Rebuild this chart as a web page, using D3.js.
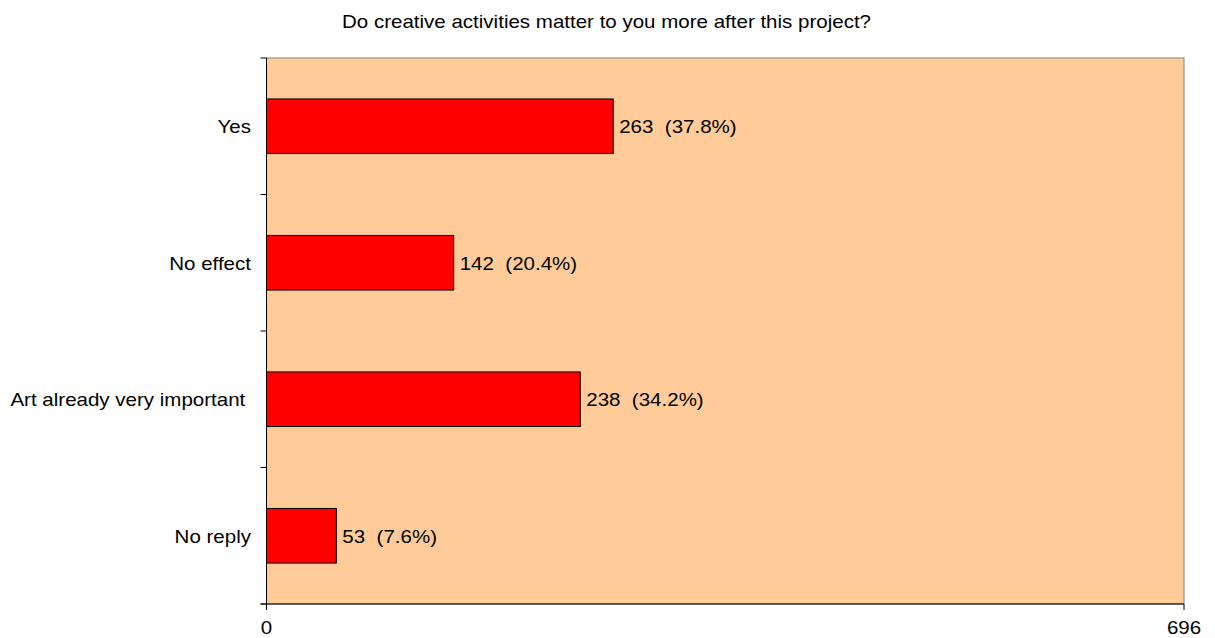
<!DOCTYPE html>
<html>
<head>
<meta charset="utf-8">
<script src="https://cdn.jsdelivr.net/npm/d3@7/dist/d3.min.js"></script>
<style>
  body { margin: 0; background: #fff; }
  svg text { font-family: "Liberation Sans", Arial, sans-serif; fill: #000; font-size: 18px; white-space: pre; }
</style>
</head>
<body>
<svg id="chart" width="1215" height="638"></svg>
<script>
const title = "Do creative activities matter to you more after this project?";
const categories = ["Yes", "No effect", "Art already very important ", "No reply"];
const counts = [263, 142, 238, 53];
const percents = ["37.8%", "20.4%", "34.2%", "7.6%"];
const xTicks = [0, 696];

const svg = d3.select("#chart");
const plotLeft = 266.5, plotRight = 1184, plotTop = 58, plotBottom = 604;
const stretch = 1.14; // text is drawn slightly wide

const x = d3.scaleLinear().domain([0, 696]).range([plotLeft, plotRight]);
const y = d3.scaleBand().domain(categories).range([plotTop, plotBottom]).paddingInner(0.6).paddingOuter(0.3);
const band = d3.scaleBand().domain(categories).range([plotTop, plotBottom]);

// place a widened text label with its baseline at (px, py)
function label(parent, px, py, str, anchor) {
  parent.append("g")
    .attr("transform", `translate(${px},${py}) scale(${stretch},1)`)
    .append("text")
    .attr("text-anchor", anchor)
    .text(str);
}

// plot background
svg.append("rect")
  .attr("x", plotLeft).attr("y", plotTop)
  .attr("width", plotRight - plotLeft).attr("height", plotBottom - plotTop)
  .attr("fill", "#FFCC99")
  .attr("stroke", "#808080").attr("stroke-width", 1);

// bars
svg.selectAll("rect.bar").data(categories).join("rect")
  .attr("class", "bar")
  .attr("x", x(0))
  .attr("y", d => y(d))
  .attr("width", (d, i) => x(counts[i]) - x(0))
  .attr("height", y.bandwidth())
  .attr("fill", "#FF0000")
  .attr("stroke", "#000").attr("stroke-width", 1);

// value labels
const gv = svg.append("g");
categories.forEach((c, i) => {
  label(gv, x(counts[i]) + 6, y(c) + y.bandwidth() / 2 + 7, `${counts[i]}  (${percents[i]})`, "start");
});

// category axis
const gy = svg.append("g");
gy.append("line").attr("x1", plotLeft).attr("x2", plotLeft).attr("y1", plotTop).attr("y2", plotBottom + 6).attr("stroke", "#000");
const yTickPos = categories.map(c => band(c)).concat([plotBottom]);
gy.selectAll("line.tick").data(yTickPos).join("line")
  .attr("class", "tick")
  .attr("x1", plotLeft - 6).attr("x2", plotLeft)
  .attr("y1", d => d).attr("y2", d => d)
  .attr("stroke", "#000");
categories.forEach(c => {
  label(gy, 251, band(c) + band.bandwidth() / 2 + 7, c, "end");
});

// value axis
const gx = svg.append("g");
gx.append("line").attr("x1", plotLeft - 6).attr("x2", plotRight).attr("y1", plotBottom).attr("y2", plotBottom).attr("stroke", "#000");
gx.selectAll("line.tick").data(xTicks).join("line")
  .attr("class", "tick")
  .attr("x1", d => x(d)).attr("x2", d => x(d))
  .attr("y1", plotBottom).attr("y2", plotBottom + 6)
  .attr("stroke", "#000");
xTicks.forEach(t => label(gx, x(t), 634, String(t), "middle"));

// title
label(svg, 606.5, 28, title, "middle");
</script>
</body>
</html>
